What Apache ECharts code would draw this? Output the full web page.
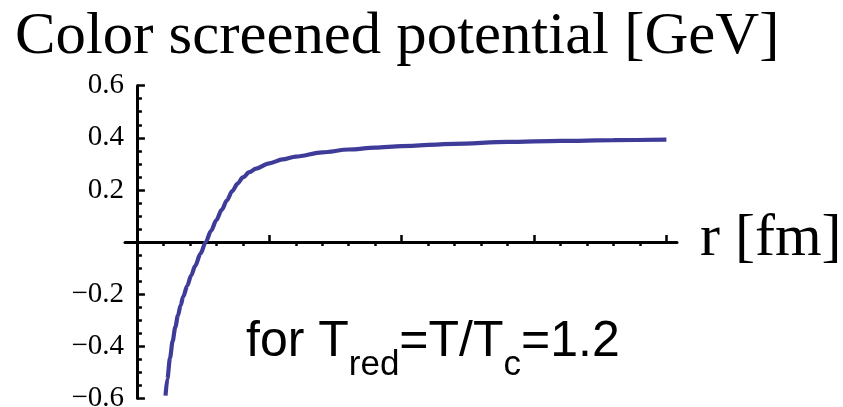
<!DOCTYPE html>
<html>
<head>
<meta charset="utf-8">
<script src="https://cdn.jsdelivr.net/npm/echarts@6/dist/echarts.min.js"></script>
<style>
  html, body { margin: 0; padding: 0; background: #ffffff; }
  #chart { width: 843px; height: 407px; }
</style>
</head>
<body>
<div id="chart"></div>
<script>
// Screened potential V(r) in GeV against separation r in fm
const rValues = [0.108, 0.115, 0.125, 0.135, 0.145, 0.155, 0.165, 0.175, 0.190, 0.205,
                 0.220, 0.240, 0.260, 0.280, 0.300, 0.320, 0.340, 0.360, 0.380, 0.400,
                 0.425, 0.450, 0.500, 0.550, 0.600, 0.700, 0.800, 0.900, 1.000, 1.200,
                 1.400, 1.600, 1.800, 2.000];
const potential = [-0.590, -0.525, -0.445, -0.380, -0.327, -0.282, -0.243, -0.210, -0.168, -0.128,
                   -0.092, -0.045, 0.000, 0.043, 0.084, 0.123, 0.160, 0.195, 0.224, 0.248,
                   0.268, 0.282, 0.302, 0.317, 0.328, 0.344, 0.355, 0.362, 0.368, 0.377,
                   0.384, 0.388, 0.391, 0.393];

// Axis ranges and ticks
const xRange = [-0.045, 2.04];
const yRange = [-0.6, 0.6];
const xMajorTicks = [0.5, 1.0, 1.5, 2.0];
const xMinorTicks = [0.1, 0.2, 0.3, 0.4, 0.6, 0.7, 0.8, 0.9, 1.1, 1.2, 1.3, 1.4,
                     1.6, 1.7, 1.8, 1.9];
const yStep = 0.2;

// Texts
const titleText = 'Color screened potential [GeV]';
const xAxisTitle = 'r [fm]';
const noteText = '{m|for T}{s|red}{m|=T/T}{s|c}{m|=1.2}';

const serif = '"Liberation Serif", "Times New Roman", serif';
const sans = '"Liberation Sans", Arial, sans-serif';

const fmt = v => (v < 0 ? '\u2212' : '') + Math.abs(v).toFixed(1);

const chart = echarts.init(document.getElementById('chart'), null, { renderer: 'canvas' });

chart.setOption({
  animation: false,
  backgroundColor: '#ffffff',
  grid: {
    left: 125, right: 166, top: 85.7, bottom: 8.7,
    containLabel: false, outerBoundsMode: 'none'
  },
  xAxis: [
    {
      type: 'value', min: xRange[0], max: xRange[1],
      axisLine: { onZero: true, onZeroAxisIndex: 0, lineStyle: { color: '#000', width: 3 } },
      axisTick: { customValues: xMajorTicks, inside: true, length: 7, lineStyle: { color: '#000', width: 2.5 } },
      axisLabel: {
        customValues: xMajorTicks, formatter: fmt, margin: 8,
        fontFamily: serif, fontSize: 29, color: '#000'
      },
      splitLine: { show: false }
    },
    {
      type: 'value', min: xRange[0], max: xRange[1],
      axisLine: { show: false, onZero: true, onZeroAxisIndex: 1 },
      axisTick: { customValues: xMinorTicks, inside: true, length: 4, lineStyle: { color: '#000', width: 2.5 } },
      axisLabel: { show: false },
      splitLine: { show: false }
    }
  ],
  yAxis: [
    {
      type: 'value', min: yRange[0], max: yRange[1], interval: yStep,
      axisLine: { onZero: true, onZeroAxisIndex: 0, lineStyle: { color: '#000', width: 3 } },
      axisTick: { inside: true, length: 8, lineStyle: { color: '#000', width: 2.5 } },
      minorTick: { show: true, splitNumber: 4, length: 5, lineStyle: { color: '#000', width: 2.5 } },
      axisLabel: {
        formatter: v => (Math.abs(v) < 1e-9 ? '' : fmt(v)), margin: 1,
        fontFamily: serif, fontSize: 29, color: '#000'
      },
      splitLine: { show: false }
    },
    {
      type: 'value', min: yRange[0], max: yRange[1], show: false
    }
  ],
  series: [
    {
      type: 'line',
      xAxisIndex: 0, yAxisIndex: 0,
      data: rValues.map((r, i) => [r, potential[i]]),
      showSymbol: false,
      smooth: 0.3,
      smoothMonotone: 'x',
      lineStyle: { color: '#3f3c99', width: 4.2 },
      silent: true
    }
  ],
  graphic: [
    {
      type: 'text', left: 15, top: 8, scaleX: 1.03,
      style: { text: titleText, font: '59px ' + serif, fill: '#000' }
    },
    {
      type: 'text', left: 700, top: 209,
      style: { text: xAxisTitle, font: '60px ' + serif, fill: '#000' }
    },
    {
      type: 'text', left: 246, top: 302,
      style: {
        text: noteText,
        rich: {
          m: { fontSize: 50, fontFamily: sans, lineHeight: 58, fill: '#000' },
          s: { fontSize: 35, fontFamily: sans, lineHeight: 40, padding: [46, 0, 0, 0], fill: '#000' }
        }
      }
    }
  ]
});
</script>
</body>
</html>
